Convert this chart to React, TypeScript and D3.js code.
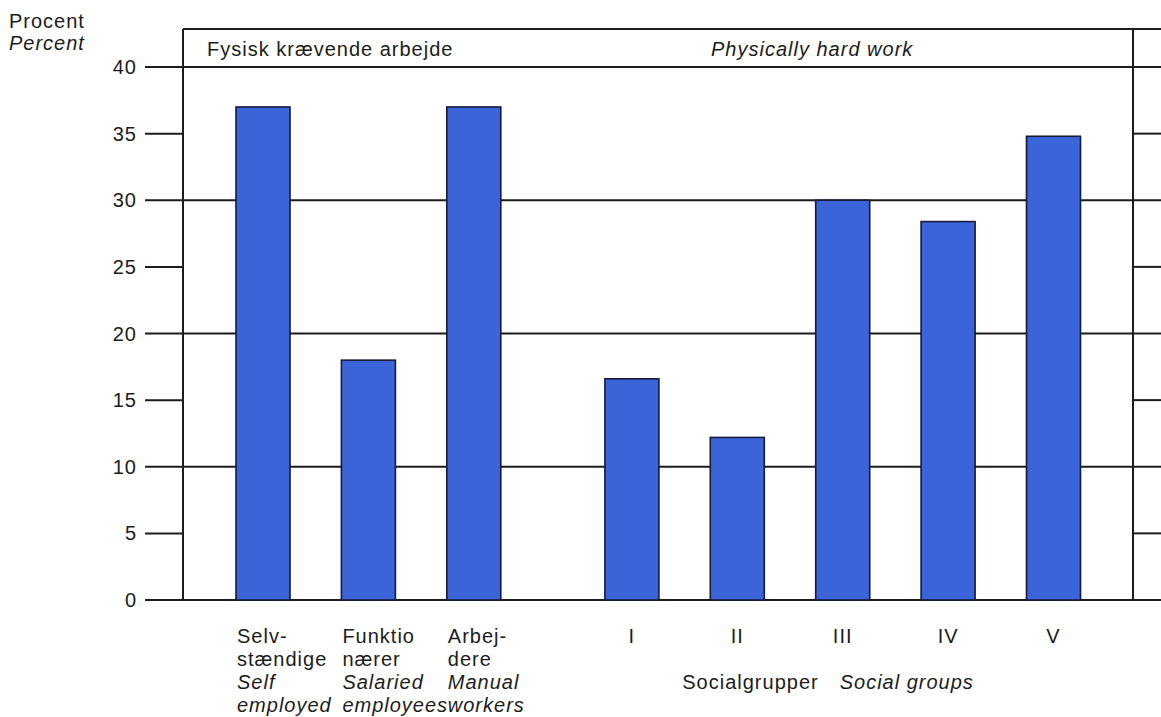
import React from "react";
import * as d3 from "d3";

const occupationDa1 = ["Selv-", "Funktio", "Arbej-"];
const occupationDa2 = ["stændige", "nærer", "dere"];
const occupationEn1 = ["Self", "Salaried", "Manual"];
const occupationEn2 = ["employed", "employees", "workers"];
const occupationValues = [37, 18, 37];

const socialGroups = ["I", "II", "III", "IV", "V"];
const socialValues = [16.6, 12.2, 30, 28.4, 34.8];

const yTicks = [0, 5, 10, 15, 20, 25, 30, 35, 40];

const W = 1161;
const H = 717;
const FONT = "'Liberation Sans', Arial, Helvetica, sans-serif";
const INK = "#1c1c1c";
const BAR = "#3a64d8";
const BAR_STROKE = "#161a3c";

export default function App() {
  const y = d3.scaleLinear().domain([0, 40]).range([600, 67]);
  const x = d3.scaleLinear().domain([0, 7.5]).range([263, 1053.5]);
  const barW = 54;
  const boxL = 183;
  const boxR = 1133;
  const boxT = 29;
  const tickL = 145;

  const bars = [
    ...occupationValues.map((v, i) => ({ v, pos: i, key: "o" + i })),
    ...socialValues.map((v, i) => ({ v, pos: 3.5 + i, key: "s" + i })),
  ];

  const textStyle: React.CSSProperties = { letterSpacing: "1px" };

  return (
    <svg
      width={W}
      height={H}
      style={{ position: "absolute", left: 0, top: 0, background: "#fff" }}
      fontFamily={FONT}
      fontSize={20}
      fill={INK}
    >
      <rect x={0} y={0} width={W} height={H} fill="#fff" />
      {/* y-axis title */}
      <text x={9} y={28} style={textStyle}>Procent</text>
      <text x={9} y={50} fontStyle="italic" style={textStyle}>Percent</text>

      {/* grid / ticks */}
      {yTicks.map((t) => {
        const yy = y(t);
        const major = t % 10 === 0;
        return (
          <g key={t}>
            {major ? (
              <line x1={tickL} x2={W} y1={yy} y2={yy} stroke={INK} strokeWidth={2} />
            ) : (
              <>
                <line x1={tickL} x2={boxL} y1={yy} y2={yy} stroke={INK} strokeWidth={2} />
                <line x1={boxR} x2={W} y1={yy} y2={yy} stroke={INK} strokeWidth={2} />
              </>
            )}
            <text x={137} y={yy + 7} textAnchor="end" style={textStyle}>
              {t}
            </text>
          </g>
        );
      })}

      {/* box */}
      <line x1={boxL} x2={W} y1={boxT} y2={boxT} stroke={INK} strokeWidth={2} />
      <line x1={boxL} x2={boxL} y1={boxT} y2={y(0)} stroke={INK} strokeWidth={2} />
      <line x1={boxR} x2={boxR} y1={boxT} y2={y(0)} stroke={INK} strokeWidth={2} />

      {/* header */}
      <text x={207} y={56} style={textStyle}>Fysisk krævende arbejde</text>
      <text x={711} y={56} fontStyle="italic" style={textStyle}>Physically hard work</text>

      {/* bars */}
      {bars.map((b) => (
        <rect
          key={b.key}
          x={x(b.pos) - barW / 2}
          y={y(b.v)}
          width={barW}
          height={y(0) - y(b.v)}
          fill={BAR}
          stroke={BAR_STROKE}
          strokeWidth={1.6}
        />
      ))}

      {/* occupation labels */}
      {occupationDa1.map((_, i) => {
        const lx = x(i) - barW / 2 + 1;
        return (
          <g key={"ol" + i} style={textStyle}>
            <text x={lx} y={643}>{occupationDa1[i]}</text>
            <text x={lx} y={666}>{occupationDa2[i]}</text>
            <text x={lx} y={689} fontStyle="italic">{occupationEn1[i]}</text>
            <text x={lx} y={712} fontStyle="italic">{occupationEn2[i]}</text>
          </g>
        );
      })}

      {/* social group labels */}
      {socialGroups.map((g, i) => (
        <text key={"sg" + i} x={x(3.5 + i)} y={643} textAnchor="middle" style={textStyle}>
          {g}
        </text>
      ))}
      <text x={x(5.5) - 24} y={689} textAnchor="end" style={textStyle}>Socialgrupper</text>
      <text x={x(5.5) - 3} y={689} fontStyle="italic" style={textStyle}>Social groups</text>
    </svg>
  );
}
